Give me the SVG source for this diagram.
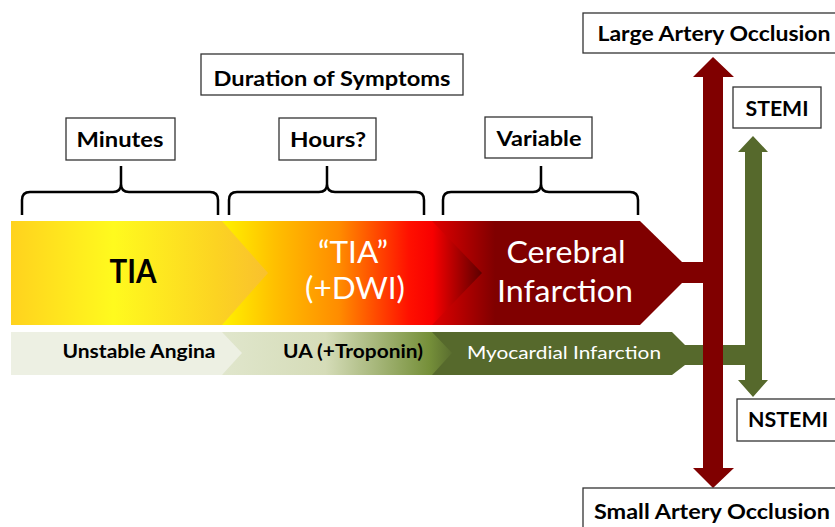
<svg xmlns="http://www.w3.org/2000/svg" width="835" height="527" viewBox="0 0 835 527">
<defs>
<linearGradient id="gY" gradientUnits="userSpaceOnUse" x1="11" y1="0" x2="268" y2="0">
<stop offset="0" stop-color="#ffd21e"/><stop offset="0.4" stop-color="#fffa1e"/><stop offset="0.8" stop-color="#fcd322"/><stop offset="1" stop-color="#f9c02e"/>
</linearGradient>
<linearGradient id="gO" gradientUnits="userSpaceOnUse" x1="222" y1="0" x2="482" y2="0">
<stop offset="0" stop-color="#fff200"/><stop offset="0.2" stop-color="#ffc000"/><stop offset="0.45" stop-color="#ff8c00"/><stop offset="0.72" stop-color="#ff1000"/><stop offset="0.81" stop-color="#f80000"/><stop offset="1" stop-color="#5c0000"/>
</linearGradient>
<linearGradient id="gR" gradientUnits="userSpaceOnUse" x1="432" y1="0" x2="495" y2="0">
<stop offset="0" stop-color="#e00000"/><stop offset="1" stop-color="#800000"/>
</linearGradient>
<linearGradient id="gG" gradientUnits="userSpaceOnUse" x1="222" y1="0" x2="452" y2="0">
<stop offset="0" stop-color="#e0e6cc"/><stop offset="0.45" stop-color="#d5dcb8"/><stop offset="0.9" stop-color="#76903a"/><stop offset="1" stop-color="#5a6e2f"/>
</linearGradient>
<style>
.box{fill:#fff;stroke:#333;stroke-width:1.3}
.lb{font-family:Lato,"Open Sans",sans-serif;font-weight:bold;fill:#000;text-anchor:middle}
.wt{font-family:Lato,"Open Sans",sans-serif;fill:#fff;text-anchor:middle}
.brace{fill:none;stroke:#000;stroke-width:2.5}
.red{fill:#800000}
.grn{fill:#56692c}
</style>
</defs>
<rect width="835" height="527" fill="#fff"/>

<g id="connectors">
<path class="brace" d="M22,215 V200 Q22,192 30,192 H113 Q121,192 121,184 V166 M121,184 Q121,192 129,192 H210 Q218,192 218,200 V215"/>
<path class="brace" d="M229,215 V200 Q229,192 237,192 H319 Q327,192 327,184 V166 M327,184 Q327,192 335,192 H416 Q424,192 424,200 V215"/>
<path class="brace" d="M443,215 V200 Q443,192 451,192 H533 Q541,192 541,184 V166 M541,184 Q541,192 549,192 H630 Q638,192 638,200 V215"/>
<polygon class="grn" points="683,345 745,345 745,365 683,365"/>
<polygon class="grn" points="745,152 738,152 753,136 768,152 762,152 762,380 768,380 753,397 738,380 745,380"/>
<polygon class="red" points="682,262 703,262 703,283 682,283"/>
<polygon class="red" points="703,77 693,77 713,57 734,77 723,77 723,468 734,468 713,488 693,468 703,468"/>
</g>

<g id="cerebral">
<polygon fill="url(#gR)" points="432,221 640,221 682,262 682,283 640,325 432,325"/>
<text class="wt" font-size="31" x="566" y="263" textLength="119" lengthAdjust="spacingAndGlyphs">Cerebral</text>
<text class="wt" font-size="31" x="565" y="302" textLength="136" lengthAdjust="spacingAndGlyphs">Infarction</text>
</g>
<g id="tia-dwi">
<polygon fill="url(#gO)" points="222,221 432,221 482,273 432,325 222,325"/>
<text class="wt" font-size="31" x="353" y="263" textLength="70" lengthAdjust="spacingAndGlyphs">“TIA”</text>
<text class="wt" font-size="31" x="355" y="299" textLength="100" lengthAdjust="spacingAndGlyphs">(+DWI)</text>
</g>
<g id="tia">
<polygon fill="url(#gY)" points="11,221 222,221 268,273 222,325 11,325"/>
<text class="lb" font-size="32" x="133" y="283" textLength="47" lengthAdjust="spacingAndGlyphs">TIA</text>
</g>

<g id="mi">
<polygon class="grn" points="432,332 672,332 685,345 685,365 672,375 432,375"/>
<text class="wt" font-size="18" x="564" y="359" textLength="194" lengthAdjust="spacingAndGlyphs">Myocardial Infarction</text>
</g>
<g id="ua-trop">
<polygon fill="url(#gG)" points="222,332 432,332 452,353 432,375 222,375"/>
<text class="lb" font-size="18" x="353" y="358" textLength="140" lengthAdjust="spacingAndGlyphs">UA (+Troponin)</text>
</g>
<g id="ua">
<polygon fill="#edf0e3" points="11,332 222,332 242,353 222,375 11,375"/>
<text class="lb" font-size="18" x="139" y="358" textLength="153" lengthAdjust="spacingAndGlyphs">Unstable Angina</text>
</g>

<g id="duration">
<rect class="box" x="201" y="54" width="262" height="41"/>
<text class="lb" font-size="21" x="332" y="86" textLength="237" lengthAdjust="spacingAndGlyphs">Duration of Symptoms</text>
</g>
<g id="minutes">
<rect class="box" x="66" y="118" width="109" height="42"/>
<text class="lb" font-size="21" x="120" y="147" textLength="87" lengthAdjust="spacingAndGlyphs">Minutes</text>
</g>
<g id="hours">
<rect class="box" x="279" y="118" width="97" height="42"/>
<text class="lb" font-size="21" x="328" y="147" textLength="76" lengthAdjust="spacingAndGlyphs">Hours?</text>
</g>
<g id="variable">
<rect class="box" x="485" y="117" width="107" height="41"/>
<text class="lb" font-size="21" x="539" y="146" textLength="85" lengthAdjust="spacingAndGlyphs">Variable</text>
</g>
<g id="large">
<rect class="box" x="583" y="13" width="260" height="40"/>
<text class="lb" font-size="21" x="714" y="41" textLength="233" lengthAdjust="spacingAndGlyphs">Large Artery Occlusion</text>
</g>
<g id="stemi">
<rect class="box" x="733" y="87" width="88" height="41"/>
<text class="lb" font-size="21" x="777" y="116" textLength="63" lengthAdjust="spacingAndGlyphs">STEMI</text>
</g>
<g id="nstemi">
<rect class="box" x="737" y="399" width="110" height="42"/>
<text class="lb" font-size="21" x="788" y="427" textLength="80" lengthAdjust="spacingAndGlyphs">NSTEMI</text>
</g>
<g id="small">
<rect class="box" x="583" y="488" width="260" height="50"/>
<text class="lb" font-size="21" x="712" y="519" textLength="236" lengthAdjust="spacingAndGlyphs">Small Artery Occlusion</text>
</g>
</svg>
